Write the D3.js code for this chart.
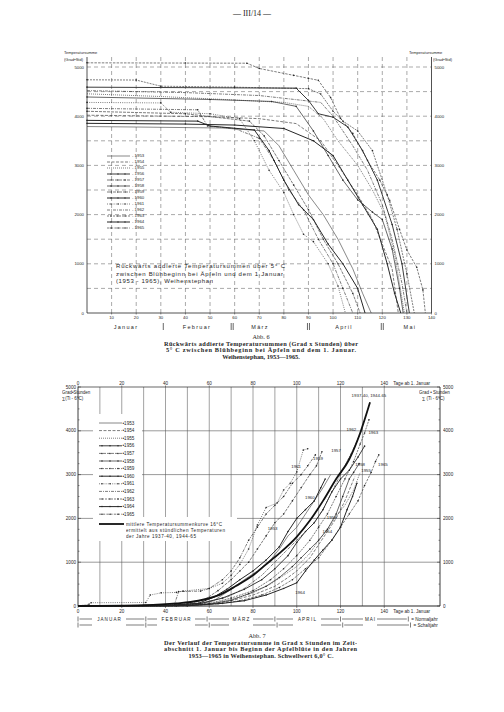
<!DOCTYPE html>
<html><head><meta charset="utf-8">
<script src="https://cdn.jsdelivr.net/npm/d3@7"></script>
<style>body{margin:0;background:#fff}svg{display:block}svg text{opacity:0.995}</style>
</head><body>
<svg id="c" width="504" height="712"></svg>
<script>
// ---------- DATA ----------
const years = [1953,1954,1955,1956,1957,1958,1959,1960,1961,1962,1963,1964,1965];
const dayTicksTop = [10,20,30,40,50,60,70,80,90,100,110,120,130,140];
const valueTicks = [0,1000,2000,3000,4000,5000];
const dayTicksBottom = [0,20,40,60,80,100,120,140];
const monthsTop = ["Januar","Februar","März","April","Mai"];
const monthsBottom = ["J A N U A R","F E B R U A R","M Ä R Z","A P R I L","M A I"];
const monthStartsNormal = [0,31,59,90,120,151];
const monthStartsLeap = [0,31,60,91,121,152];

// Abb. 6 : backward-added temperature sums (day, Grad x Std)
const back1953 = [[0,3790],[20,3780],[55,3760],[72,3700],[78,3400],[84,2900],[90,2400],[96,2000],[102,1500],[108,900],[112,400],[115.5,0]];
const back1954 = [[0,4020],[50,3990],[70,3950],[85,3850],[95,3500],[102,3000],[110,2400],[116,1900],[120,1400],[124,900],[126.5,0]];
const back1955 = [[0,4455],[30,4400],[60,4330],[80,4280],[90,4200],[96,3950],[102,3500],[110,3000],[116,2500],[121,2000],[125,1200],[129,0]];
const back1956 = [[0,4590],[85,4570],[90,4320],[94,4050],[100,3980],[106,3780],[112,3300],[118,2700],[124,1800],[128,1000],[131,0]];
const back1957 = [[0,4100],[40,4050],[66,3900],[72,3600],[78,3100],[84,2600],[90,2100],[96,1500],[102,1000],[108,400],[111,0]];
const back1958 = [[0,4390],[50,4340],[75,4300],[85,4200],[92,3700],[98,3200],[104,2700],[110,2300],[116,2050],[120,1900],[124,1300],[127,500],[128.5,0]];
const back1959 = [[0,4160],[45,4130],[49,3800],[60,3750],[70,3550],[76,3100],[82,2500],[88,2100],[94,1500],[100,1000],[104,500],[108,0]];
const back1960 = [[0,3915],[45,3900],[50,3800],[68,3720],[74,3300],[80,2700],[86,2200],[92,1900],[98,1400],[104,1000],[110,500],[113,0]];
const back1961 = [[0,4280],[30,4270],[34,4080],[50,4050],[62,3950],[68,3500],[74,2900],[80,2450],[84,2000],[88,1600],[92,1450],[98,1000],[102,550],[105,0]];
const back1962 = [[0,4520],[40,4480],[70,4420],[95,4280],[100,4000],[108,3400],[114,2900],[120,2200],[124,1500],[128,600],[130,0]];
const back1963 = [[0,4740],[20,4735],[30,4610],[60,4590],[90,4560],[95,4450],[100,4100],[104,3900],[110,3700],[116,3300],[122,2400],[126,1700],[130,800],[133,0]];
const back1964 = [[0,3855],[40,3840],[60,3820],[80,3750],[92,3500],[100,3200],[106,2700],[112,2200],[118,1700],[122,1000],[125,400],[127.5,0]];
const back1965 = [[0,5085],[40,5080],[65,5077],[70,4970],[84,4830],[90,4770],[94,4730],[99,4380],[103,3960],[108,3650],[114,3100],[119,2700],[123,2290],[127,1700],[130,1280],[134,930],[136.5,470],[137.5,0]];

// Abb. 7 : forward temperature sums over 6 °C (day, Grad x Stunden)
const fwd1953 = [[0,0],[40,5],[55,30],[62,120],[70,380],[76,600],[82,800],[88,1050],[92,1300],[96,1600],[100,1800],[104,2100],[108,2400],[112,2700],[115.5,3000]];
const fwd1954 = [[0,0],[40,5],[60,40],[70,120],[80,250],[90,450],[96,650],[100,800],[106,1100],[110,1400],[114,1700],[118,2000],[122,2400],[126.5,2950]];
const fwd1955 = [[0,0],[45,5],[60,50],[70,150],[80,300],[88,500],[94,700],[100,900],[106,1200],[110,1500],[114,1750],[118,2050],[122,2300],[126,2650],[129,3050]];
const fwd1956 = [[0,0],[40,10],[56,60],[66,180],[76,380],[84,600],[90,850],[96,1150],[100,1450],[104,1700],[108,1900],[112,2200],[116,2600],[120,2900],[124,3100],[128,3400],[131,3650]];
const fwd1957 = [[0,0],[30,5],[50,40],[58,150],[64,350],[70,600],[74,800],[78,1000],[82,1300],[86,1600],[90,1900],[94,2100],[98,2400],[102,2700],[106,3000],[109,3200],[111.5,3520]];
const fwd1958 = [[0,0],[45,5],[60,40],[70,130],[78,280],[86,450],[92,650],[98,900],[102,1100],[106,1300],[110,1500],[114,1750],[118,2100],[121,2500],[124,2900],[126,3050],[128.5,3250]];
const fwd1959 = [[0,0],[20,10],[44,20],[46,330],[56,340],[60,400],[66,600],[70,800],[74,1100],[78,1500],[82,1800],[86,2100],[90,2300],[94,2500],[98,2800],[102,3000],[105,3200],[108.5,3450]];
const fwd1960 = [[0,0],[40,10],[55,60],[62,200],[68,380],[74,600],[80,800],[86,1050],[92,1350],[96,1700],[100,2000],[104,2200],[108,2400],[111,2700],[113,2900]];
const fwd1961 = [[0,0],[5,40],[6,75],[31,80],[33,250],[38,300],[45,310],[48,340],[60,400],[66,520],[70,700],[74,950],[78,1300],[82,1850],[86,2250],[91,2350],[94,2650],[97,2800],[100,3060],[103,3560],[105,3590]];
const fwd1962 = [[0,0],[40,10],[58,80],[68,200],[76,400],[84,700],[90,1000],[96,1300],[100,1500],[104,1700],[108,1900],[112,2200],[116,2600],[120,3000],[124,3400],[127,3700],[130,4050]];
const fwd1963 = [[0,0],[45,5],[60,60],[70,180],[80,350],[88,600],[94,850],[100,1150],[106,1500],[110,1800],[114,2100],[118,2500],[122,2900],[126,3300],[129,3700],[131,3950],[133,4250]];
const fwd1964 = [[0,0],[50,5],[66,60],[76,120],[86,250],[94,400],[100,530],[104,800],[108,1050],[112,1280],[116,1500],[120,1800],[123,2200],[125.5,2500],[127.5,2800]];
const fwd1965 = [[0,0],[50,5],[64,50],[74,120],[84,250],[92,420],[98,600],[104,850],[110,1100],[116,1500],[120,1800],[124,2100],[128,2400],[131,2750],[134,3050],[136,3300],[137.5,3450]];
const meanCurve = [[0,0],[30,20],[45,60],[55,120],[65,260],[72,450],[80,700],[86,950],[92,1200],[100,1580],[106,1950],[112,2400],[118,2900],[124,3350],[129,3950],[133.5,4650]];

const backSeries = [back1953,back1954,back1955,back1956,back1957,back1958,back1959,back1960,back1961,back1962,back1963,back1964,back1965];
const fwdSeries = [fwd1953,fwd1954,fwd1955,fwd1956,fwd1957,fwd1958,fwd1959,fwd1960,fwd1961,fwd1962,fwd1963,fwd1964,fwd1965];

// ---------- STYLES / LAYOUT ----------
const styles = [
 {dash:null, w:0.55, mk:false},
 {dash:"3,1.5", w:0.6, mk:false},
 {dash:"1,1", w:0.6, mk:false},
 {dash:null, w:0.9, mk:true},
 {dash:"3,1", w:0.6, mk:true},
 {dash:null, w:0.7, mk:true},
 {dash:"3,1,1,1", w:0.6, mk:true},
 {dash:null, w:1.0, mk:true},
 {dash:"1,1.2", w:0.6, mk:true},
 {dash:"3,1,1,1", w:0.6, mk:false},
 {dash:"2,1", w:0.6, mk:true},
 {dash:null, w:1.0, mk:true},
 {dash:"2.5,1.2", w:0.6, mk:true}
];
// label anchor positions (day, value) for year labels in Abb. 7
const labelPos = {1953:[89,1780],1954:[114,1690],1955:[131.7,3100],1956:[116,2010],1957:[118,3560],1958:[129,3240],1959:[109.7,3360],1960:[106,2470],1961:[99.7,3180],1962:[125,4020],1963:[135,3950],1964:[101.5,300],1965:[139.4,3240]};

const INK = "#262626";
const svg = d3.select("#c");
svg.append("rect").attr("width",504).attr("height",712).attr("fill","#fff");
const sans = "Liberation Sans, Arial, sans-serif";
const serif = "Liberation Serif, Times New Roman, serif";

function txt(g,x,y,s,size,anchor,opts={}){
  const t = g.append("text").attr("x",x).attr("y",y).text(s)
   .attr("font-size",size).attr("font-family",opts.family||sans)
   .attr("text-anchor",anchor||"start").attr("fill",opts.fill||INK);
  if(opts.weight) t.attr("font-weight",opts.weight);
  if(opts.ls) t.attr("letter-spacing",opts.ls);
  if(opts.len) t.attr("textLength",opts.len).attr("lengthAdjust","spacing");
  return t;
}
function styleLine(p,st){
  p.attr("fill","none").attr("stroke",INK).attr("stroke-width",st.w);
  if(st.dash) p.attr("stroke-dasharray",st.dash);
  return p;
}

// header
txt(svg,252,16,"— III/14 —",8,"middle",{family:serif});

// ================= Abb. 6 =================
const gT = svg.append("g");
const xT = d3.scaleLinear().domain([0,140]).range([87,431.5]);
const yT = d3.scaleLinear().domain([0,5000]).range([313,67]);
const topY = 57;
gT.selectAll(".vg").data(d3.range(10,140,10)).join("line")
 .attr("x1",d=>xT(d)).attr("x2",d=>xT(d)).attr("y1",topY).attr("y2",yT(0))
 .attr("stroke","#555").attr("stroke-width",0.5).attr("stroke-dasharray","4,3");
gT.selectAll(".hg").data(d3.range(500,5001,500)).join("line")
 .attr("x1",xT(0)).attr("x2",xT(140)).attr("y1",d=>yT(d)).attr("y2",d=>yT(d))
 .attr("stroke","#555").attr("stroke-width",0.5).attr("stroke-dasharray","4,3");
[[xT(0),topY,xT(0),yT(0)],[xT(140),topY,xT(140),yT(0)],[xT(0),yT(0),xT(140),yT(0)]].forEach(l=>
 gT.append("line").attr("x1",l[0]).attr("y1",l[1]).attr("x2",l[2]).attr("y2",l[3]).attr("stroke",INK).attr("stroke-width",0.8));
valueTicks.forEach(v=>{
  txt(gT,xT(0)-3,yT(v)+1.5,String(v),4.3,"end");
  txt(gT,xT(140)+3,yT(v)+1.5,String(v),4.3,"start");
});
dayTicksTop.forEach(d=>{
  txt(gT,xT(d),yT(0)+6,String(d),4.3,"middle");
  gT.append("line").attr("x1",xT(d)).attr("x2",xT(d)).attr("y1",yT(0)).attr("y2",yT(0)+1.5).attr("stroke",INK).attr("stroke-width",0.5);
});
txt(gT,64,54,"Temperatursumme",4,"start");
txt(gT,64,61,"(Grad•Std)",4,"start");
txt(gT,409,54,"Temperatursumme",4,"start");
txt(gT,433,61,"(Grad•Std)",4,"start");
const monthCentersTop = [126,197,260,344,410];
monthsTop.forEach((m,i)=>txt(gT,monthCentersTop[i],329,m,5.5,"middle",{ls:1.3}));
[[31,1],[59,2],[90,2],[120,2]].forEach(([d,n])=>{
  for(let k=0;k<n;k++){
    const xx = xT(d)+(n===2?(k-0.5)*2:0);
    gT.append("line").attr("x1",xx).attr("x2",xx).attr("y1",323).attr("y2",330).attr("stroke",INK).attr("stroke-width",0.7);
  }
});
const lineT = d3.line().x(d=>xT(d[0])).y(d=>yT(d[1]));
backSeries.forEach((s,i)=>{
  styleLine(gT.append("path").attr("d",lineT(s)),styles[i]);
  if(styles[i].mk) gT.selectAll(null).data(s.slice(0,-1)).join("circle")
    .attr("cx",d=>xT(d[0])).attr("cy",d=>yT(d[1])).attr("r",0.8).attr("fill",INK);
});
years.forEach((y,i)=>{
  const yy = 156 + i*6;
  styleLine(gT.append("line").attr("x1",107).attr("x2",130).attr("y1",yy).attr("y2",yy),styles[i]);
  if(styles[i].mk){[111,118,125].forEach(cx=>gT.append("circle").attr("cx",cx).attr("cy",yy).attr("r",0.7).attr("fill",INK));}
  txt(gT,132,yy+1.4,"- "+y,4.3,"start");
});
txt(gT,116,268,"Rückwärts addierte Temperatursummen über 5° C",6,"start",{len:169});
txt(gT,116,275.5,"zwischen Blühbeginn bei Äpfeln und dem 1.Januar",6,"start",{len:167});
txt(gT,116,283,"(1953 - 1965), Weihenstephan",6,"start",{len:97});
txt(svg,261,338.5,"Abb. 6",6.3,"middle",{family:serif});
txt(svg,261,345.5,"Rückwärts addierte Temperatursummen (Grad x Stunden) über",6.3,"middle",{family:serif,weight:"bold",len:194});
txt(svg,261,352,"5° C zwischen Blühbeginn bei Äpfeln und dem 1. Januar.",6.3,"middle",{family:serif,weight:"bold",len:190});
txt(svg,261,358.5,"Weihenstephan, 1953—1965.",6.3,"middle",{family:serif,weight:"bold"});

// ================= Abb. 7 =================
const gB = svg.append("g");
const xB = d3.scaleLinear().domain([0,140]).range([78,384.25]);
const yB = d3.scaleLinear().domain([0,5000]).range([606,387]);
const rightX = 440;
gB.selectAll(".vg").data(d3.range(10,141,10)).join("line")
 .attr("x1",d=>xB(d)).attr("x2",d=>xB(d)).attr("y1",yB(5000)).attr("y2",yB(0))
 .attr("stroke","#555").attr("stroke-width",0.55);
gB.selectAll(".hg").data([1000,2000,3000,4000]).join("line")
 .attr("x1",xB(0)).attr("x2",rightX).attr("y1",d=>yB(d)).attr("y2",d=>yB(d))
 .attr("stroke","#555").attr("stroke-width",0.6);
gB.append("rect").attr("x",93).attr("y",414).attr("width",49).attr("height",104).attr("fill","#fff");
gB.append("rect").attr("x",93).attr("y",517).attr("width",144).attr("height",24).attr("fill","#fff");
[[xB(0),yB(5000),xB(0),yB(0),0.9],[rightX,yB(5000),rightX,yB(0),0.9],[xB(0),yB(0),rightX,yB(0),1.2],[xB(0),yB(5000),rightX,yB(5000),0.7]].forEach(l=>
 gB.append("line").attr("x1",l[0]).attr("y1",l[1]).attr("x2",l[2]).attr("y2",l[3]).attr("stroke",INK).attr("stroke-width",l[4]));
d3.range(0,5001,250).forEach(v=>{
  const L = v%1000===0?3:1.5;
  gB.append("line").attr("x1",xB(0)).attr("x2",xB(0)+L).attr("y1",yB(v)).attr("y2",yB(v)).attr("stroke",INK).attr("stroke-width",0.5);
  gB.append("line").attr("x1",rightX-L).attr("x2",rightX).attr("y1",yB(v)).attr("y2",yB(v)).attr("stroke",INK).attr("stroke-width",0.5);
});
valueTicks.forEach(v=>{
  txt(gB,xB(0)-2,yB(v)+1.6,String(v),4.6,"end");
  txt(gB,rightX+3,yB(v)+1.6,String(v),4.6,"start");
});
dayTicksBottom.forEach(d=>{
  txt(gB,xB(d),yB(0)+7,String(d),4.6,"middle");
  txt(gB,xB(d),yB(5000)-2.5,String(d),4.6,"middle");
  gB.append("line").attr("x1",xB(d)).attr("x2",xB(d)).attr("y1",yB(0)).attr("y2",yB(0)+2).attr("stroke",INK).attr("stroke-width",0.5);
  gB.append("line").attr("x1",xB(d)).attr("x2",xB(d)).attr("y1",yB(5000)-1.5).attr("y2",yB(5000)).attr("stroke",INK).attr("stroke-width",0.5);
});
txt(gB,xB(140)+9,yB(0)+7,"Tage ab 1. Januar",4.6,"start");
txt(gB,xB(140)+9,yB(5000)-2.5,"Tage ab 1. Januar",4.6,"start");
txt(gB,62,394,"Grad•Stunden",4.5,"start");
txt(gB,62,400,"∑(Ti - 6°C)",4.5,"start");
txt(gB,419,394,"Grad • Stunden",4.5,"start");
txt(gB,422,400,"∑ (Ti - 6°C)",4.5,"start");
const rowN = 619, rowL = 625;
const monthCentersB = [109,176,241,307,370];
const gapHalf = [17,19,12,14,7];
function monthRow(y,starts,labels){
  for(let i=0;i<5;i++){
    const a = xB(starts[i])+1.5, b = xB(starts[i+1])-1.5;
    const c = monthCentersB[i], h = gapHalf[i];
    gB.append("line").attr("x1",a).attr("x2",c-h).attr("y1",y).attr("y2",y).attr("stroke",INK).attr("stroke-width",0.6);
    gB.append("line").attr("x1",c+h).attr("x2",b).attr("y1",y).attr("y2",y).attr("stroke",INK).attr("stroke-width",0.6);
    if(labels) txt(gB,c,y+1.7,labels[i],4.6,"middle");
  }
  starts.forEach(d=>gB.append("line").attr("x1",xB(d)).attr("x2",xB(d)).attr("y1",y-2.5).attr("y2",y+2.5).attr("stroke",INK).attr("stroke-width",0.6));
}
monthRow(rowN,monthStartsNormal,monthsBottom);
monthRow(rowL,monthStartsLeap,null);
txt(gB,xB(151)+3,rowN+1.7,"= Normaljahr",4.6,"start");
txt(gB,xB(152)+3,rowL+1.7,"= Schaltjahr",4.6,"start");
const lineB = d3.line().x(d=>xB(d[0])).y(d=>yB(d[1]));
fwdSeries.forEach((s,i)=>{
  styleLine(gB.append("path").attr("d",lineB(s)),styles[i]);
  if(styles[i].mk) gB.selectAll(null).data(s.slice(1)).join("circle")
    .attr("cx",d=>xB(d[0])).attr("cy",d=>yB(d[1])).attr("r",0.8).attr("fill",INK);
});
gB.append("path").attr("d",d3.line().x(d=>xB(d[0])).y(d=>yB(d[1])).curve(d3.curveMonotoneX)(meanCurve))
 .attr("fill","none").attr("stroke","#111").attr("stroke-width",1.8);
txt(gB,xB(133),yB(4780),"1937-40, 1944-65",4.4,"middle");
years.forEach(y=>{
  const p = labelPos[y];
  txt(gB,xB(p[0]),yB(p[1])+1.5,String(y),4.4,"middle");
});
years.forEach((y,i)=>{
  const yy = 423 + i*7.6;
  styleLine(gB.append("line").attr("x1",99).attr("x2",122).attr("y1",yy).attr("y2",yy),styles[i]);
  if(styles[i].mk){[102,110,118].forEach(cx=>gB.append("circle").attr("cx",cx).attr("cy",yy).attr("r",0.75).attr("fill",INK));}
  txt(gB,122.5,yy+1.6,"•"+y,4.6,"start");
});
gB.append("line").attr("x1",99).attr("x2",124).attr("y1",524).attr("y2",524).attr("stroke","#111").attr("stroke-width",1.8);
txt(gB,126,525.5,"mittlere Temperatursummenkurve 16°C",4.6,"start",{len:96});
txt(gB,126,531.5,"ermittelt aus stündlichen Temperaturen",4.6,"start",{len:99});
txt(gB,126,537.5,"der Jahre 1937-40, 1944-65",4.6,"start",{len:70});
txt(svg,257,637.5,"Abb. 7",6.3,"middle",{family:serif});
txt(svg,164,644.5,"Der Verlauf der Temperatursumme in Grad x Stunden im Zeit-",6.3,"start",{family:serif,weight:"bold",len:193});
txt(svg,164,651,"abschnitt 1. Januar bis Beginn der Apfelblüte in den Jahren",6.3,"start",{family:serif,weight:"bold",len:193});
txt(svg,261,657.5,"1953—1965 in Weihenstephan. Schwellwert 6,0° C.",6.3,"middle",{family:serif,weight:"bold",len:145});
</script>
</body></html>
